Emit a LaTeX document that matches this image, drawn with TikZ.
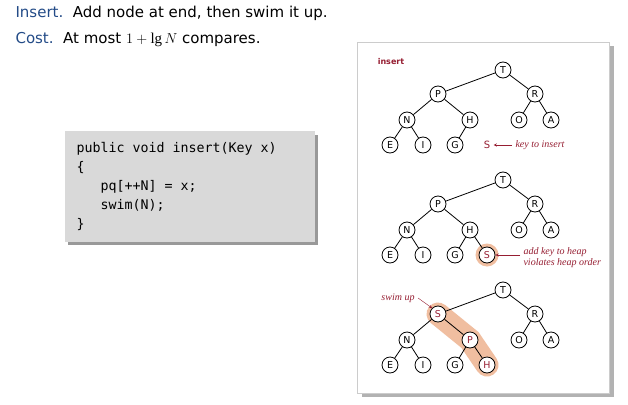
\documentclass[tikz,border=0pt]{standalone}
\usepackage{fontspec}
\setmainfont{Liberation Serif}
\setsansfont{DejaVu Sans}
\setmonofont{DejaVu Sans Mono}
\usetikzlibrary{positioning}
\definecolor{headblue}{RGB}{35,75,135}
\definecolor{keyred}{RGB}{150,30,50}
\definecolor{peach}{RGB}{240,190,160}
\tikzset{
key/.style={circle, draw, thick, fill=white, inner sep=0pt, minimum size=16pt, font=\sffamily\fontsize{9.5}{9.5}\selectfont},
hot/.style={key, text=keyred},
link/.style={thick},
note/.style={text=keyred, font=\itshape\fontsize{10}{11}\selectfont},
}
\begin{document}
\begin{tikzpicture}[x=1pt,y=-1pt]
\useasboundingbox (0,0) rectangle (628,404);
% headline
\node[anchor=west, font=\sffamily\fontsize{15}{17}\selectfont] (l1) at (12,13) {\textcolor{headblue}{Insert.}\ \ Add node at end, then swim it up.};
\node[anchor=west, font=\sffamily\fontsize{15}{17}\selectfont] (l2) at (12,40) {\textcolor{headblue}{Cost.}\ \ At most $1+\lg N$ compares.};
% code box
\fill[gray!80] (68,135) rectangle (318,245);
\fill[gray!30] (65,131) rectangle (315,242);
\node[anchor=north west, align=left, font=\ttfamily\fontsize{13.3}{19}\selectfont] (code) at (73,139) {public void insert(Key x)\\\{\\\ \ \ pq[++N] = x;\\\ \ \ swim(N);\\\}};
% panel
\fill[gray!60] (362,46) rectangle (614,397);
\fill[white] (357,42) rectangle (609,393);
\draw[gray!40] (357,42) rectangle (609,393);
\node[text=keyred, font=\sffamily\bfseries\fontsize{8}{8}\selectfont] (title) at (391,62) {insert};
% tree 1
\node[key] (aT) at (503,70) {T};
\node[key] (aP) at (438,94) {P};
\node[key] (aR) at (535,94) {R};
\node[key] (aN) at (407,120) {N};
\node[key] (aH) at (470,120) {H};
\node[key] (aO) at (519,120) {O};
\node[key] (aA) at (551,120) {A};
\node[key] (aE) at (390,145) {E};
\node[key] (aI) at (423,145) {I};
\node[key] (aG) at (455,145) {G};
\draw[link] (aT)--(aP) (aT)--(aR) (aP)--(aN) (aP)--(aH) (aR)--(aO) (aR)--(aA) (aN)--(aE) (aN)--(aI) (aH)--(aG);
\node[text=keyred, font=\sffamily\fontsize{10}{10}\selectfont] (aS) at (487,145) {S};
\node[note, anchor=west] (aTxt) at (512,145) {key to insert};
\draw[keyred, -stealth] (aTxt.west) -- (aS.east);
% tree 2
\fill[peach] (487,255) circle (11.5);
\node[key] (bT) at (503,180) {T};
\node[key] (bP) at (438,204) {P};
\node[key] (bR) at (535,204) {R};
\node[key] (bN) at (407,230) {N};
\node[key] (bH) at (470,230) {H};
\node[key] (bO) at (519,230) {O};
\node[key] (bA) at (551,230) {A};
\node[key] (bE) at (390,255) {E};
\node[key] (bI) at (423,255) {I};
\node[key] (bG) at (455,255) {G};
\node[hot] (bS) at (487,255) {S};
\draw[link] (bT)--(bP) (bT)--(bR) (bP)--(bN) (bP)--(bH) (bR)--(bO) (bR)--(bA) (bN)--(bE) (bN)--(bI) (bH)--(bG) (bH)--(bS);
\node[note, anchor=west, align=left] (bTxt) at (520,258) {add key to heap\\violates heap order};
\draw[keyred, -stealth] (bTxt.west |- bS) -- (bS.east);
% tree 3
\draw[peach, line width=23pt, line cap=round] (438,314) -- (470,340) -- (487,365);
\node[key] (cT) at (503,290) {T};
\node[hot] (cS) at (438,314) {S};
\node[key] (cR) at (535,314) {R};
\node[key] (cN) at (407,340) {N};
\node[hot] (cP) at (470,340) {P};
\node[key] (cO) at (519,340) {O};
\node[key] (cA) at (551,340) {A};
\node[key] (cE) at (390,365) {E};
\node[key] (cI) at (423,365) {I};
\node[key] (cG) at (455,365) {G};
\node[hot] (cH) at (487,365) {H};
\draw[link] (cT)--(cS) (cT)--(cR) (cS)--(cN) (cS)--(cP) (cR)--(cO) (cR)--(cA) (cN)--(cE) (cN)--(cI) (cP)--(cG) (cP)--(cH);
\node[note] (cTxt) at (398,298) {swim up};
\draw[keyred, -stealth] (cTxt.east) -- (cS.north west);
\end{tikzpicture}
\end{document}
